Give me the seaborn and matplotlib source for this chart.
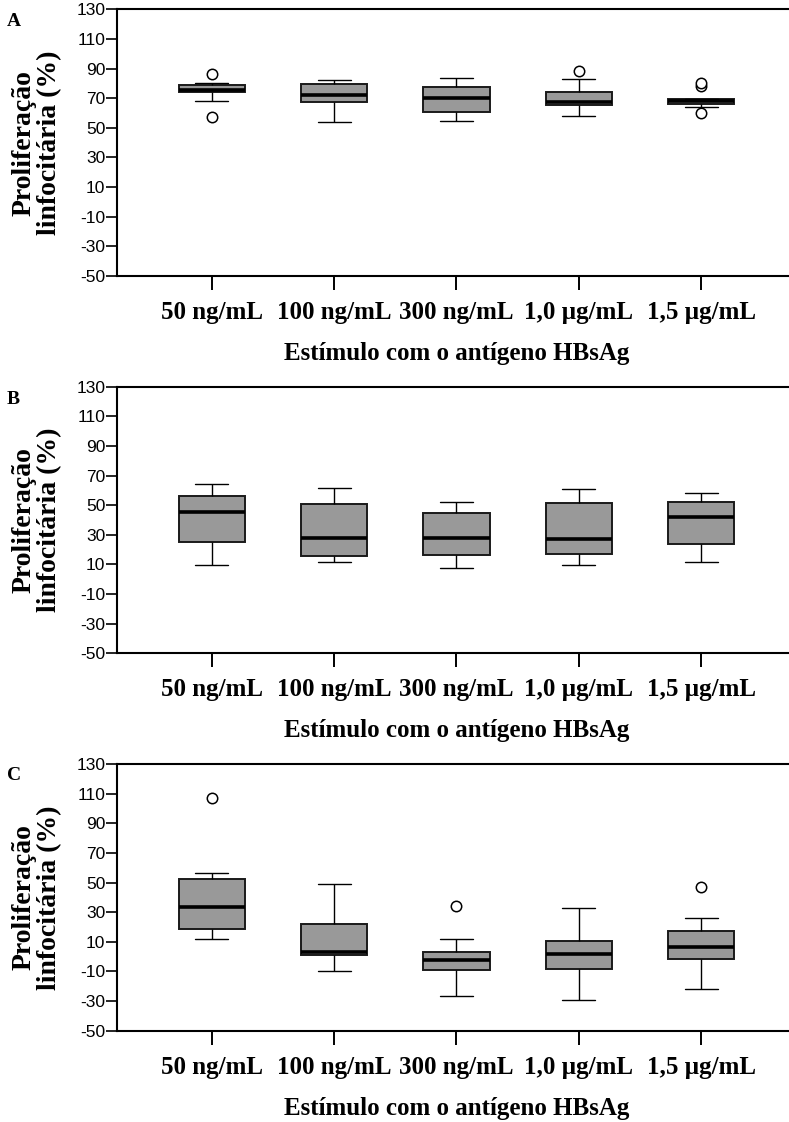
import numpy as np
import pandas as pd
import matplotlib
matplotlib.use("Agg")
import matplotlib.pyplot as plt
import seaborn as sns

# Stimulus concentrations (x categories)
doses = ["50 ng/mL", "100 ng/mL", "300 ng/mL", "1,0 µg/mL", "1,5 µg/mL"]

# Lymphocyte proliferation (%) per stimulus, one list per concentration
panel_a = [
    [57.1, 68.1, 74.0, 75.0, 75.5, 77.0, 78.9, 80.0, 86.6],
    [54.0, 62.0, 67.2, 69.0, 71.9, 76.0, 79.6, 81.0, 82.3],
    [54.4, 57.0, 60.4, 65.0, 70.3, 75.0, 77.8, 80.0, 83.8],
    [58.2, 63.0, 65.2, 66.0, 67.4, 71.0, 74.0, 82.9, 88.4],
    [60.0, 64.3, 66.1, 67.0, 68.1, 69.0, 69.7, 78.2, 80.0],
]
panel_b = [
    [9.4, 18.0, 25.4, 36.0, 45.4, 50.0, 56.2, 60.0, 64.3],
    [11.6, 13.0, 15.7, 22.0, 27.8, 40.0, 50.8, 56.0, 61.6],
    [7.6, 12.0, 16.4, 22.0, 28.1, 36.0, 44.5, 48.0, 52.1],
    [9.4, 13.0, 16.8, 22.0, 27.2, 40.0, 51.2, 56.0, 60.9],
    [11.9, 18.0, 23.8, 33.0, 41.8, 47.0, 52.4, 55.0, 58.2],
]
panel_c = [
    [11.9, 15.0, 18.4, 26.0, 33.7, 44.0, 52.6, 56.2, 107.3],
    [-9.7, -4.0, 1.2, 2.0, 3.2, 12.0, 22.0, 35.0, 48.8],
    [-26.4, -18.0, -8.8, -6.0, -2.5, 0.5, 3.3, 12.1, 34.4],
    [-29.5, -18.0, -8.2, -3.0, 1.7, 6.0, 10.7, 22.0, 33.0],
    [-21.9, -10.0, -1.6, 3.0, 6.7, 12.0, 17.0, 26.0, 47.2],
]

panels = [("A", panel_a), ("B", panel_b), ("C", panel_c)]

y_ticks = [130, 110, 90, 70, 50, 30, 10, -10, -30, -50]
y_label = "Proliferação\nlinfocitária (%)"
x_label = "Estímulo com o antígeno HBsAg"

sns.set_theme(style="ticks")
plt.rcParams["font.family"] = ["Liberation Sans", "DejaVu Sans"]
plt.rcParams["text.color"] = "black"
plt.rcParams["axes.labelcolor"] = "black"
plt.rcParams["xtick.color"] = "black"
plt.rcParams["ytick.color"] = "black"

fig = plt.figure(figsize=(7.89, 11.22), dpi=100)

W, H = 789.0, 1122.0
left_px, right_px = 117.0, 796.0
tops = [9.3, 386.7, 764.0]
axis_h = 266.7
letter_y = [22.0, 400.0, 776.0]

serif_bold = dict(family=["Liberation Serif", "DejaVu Serif"], weight="bold")

for (letter, groups), top_px, ly in zip(panels, tops, letter_y):
    ax = fig.add_axes([left_px / W, 1 - (top_px + axis_h) / H,
                       (right_px - left_px) / W, axis_h / H])
    df = pd.DataFrame({
        "dose": np.repeat(doses, [len(g) for g in groups]),
        "value": np.concatenate(groups),
    })
    sns.boxplot(
        data=df, x="dose", y="value", order=doses, ax=ax,
        color="#999999", saturation=1, width=0.54, linecolor="black",
        linewidth=1.0, whis=1.5,
        boxprops=dict(linewidth=1.4, edgecolor="#1a1a1a"),
        whiskerprops=dict(linewidth=1.0, color="black"),
        capprops=dict(linewidth=1.0, color="black"),
        medianprops=dict(linewidth=2.6, color="black"),
        flierprops=dict(marker="o", markerfacecolor="white",
                        markeredgecolor="black", markersize=7.5,
                        markeredgewidth=1.1),
    )
    ax.set_xlim(-0.777, 4.777)
    ax.set_ylim(-50, 130)
    ax.set_yticks(y_ticks)
    ax.set_yticklabels([str(t) for t in y_ticks], fontsize=12.5)
    ax.set_xticks(range(len(doses)))
    ax.set_xticklabels(doses, fontsize=18, **serif_bold)
    ax.tick_params(axis="y", direction="out", length=8, width=1.2, pad=0.5)
    ax.tick_params(axis="x", direction="out", length=10, width=1.4, pad=8)
    for side in ["left", "bottom", "top"]:
        ax.spines[side].set_visible(True)
        ax.spines[side].set_linewidth(1.5)
        ax.spines[side].set_color("black")
    ax.spines["right"].set_visible(False)
    ax.set_xlabel(x_label, fontsize=18, labelpad=13, **serif_bold)
    ax.set_ylabel(y_label, fontsize=20, labelpad=10, linespacing=1.05,
                  **serif_bold)
    fig.text(7 / W, 1 - ly / H, letter, fontsize=14, va="center",
             ha="left", **serif_bold)

fig.savefig("out.png", dpi=100, facecolor="white")
